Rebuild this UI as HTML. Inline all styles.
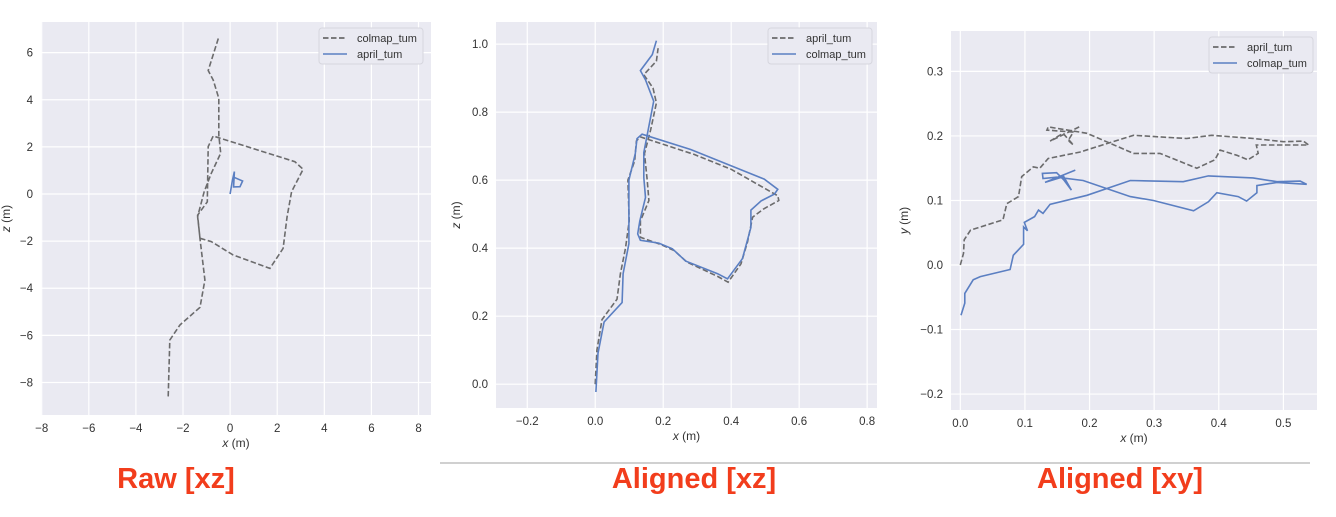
<!DOCTYPE html>
<html><head><meta charset="utf-8"><style>
body{margin:0;background:#fff;width:1336px;height:517px;overflow:hidden;font-family:"Liberation Sans",sans-serif}
svg{position:absolute;left:0;top:0}
.cap{position:absolute;color:#f23d1c;font-weight:bold;font-size:29px;transform:translateX(-50%);white-space:nowrap}
</style></head><body>
<svg id="chart" width="1336" height="517"></svg>
<div style="position:absolute;left:440px;top:462px;width:870px;height:2px;background:#d0d0d0"></div>
<div class="cap" style="left:176px;top:463px">Raw [xz]</div>
<div class="cap" style="left:694px;top:463px">Aligned [xz]</div>
<div class="cap" style="left:1120px;top:463px">Aligned [xy]</div>
<script>
// Panel 1: raw xz
const rawColmap=[[-0.5,6.6],[-0.93,5.24],[-0.72,4.84],[-0.48,4.06],[-0.48,2.5],[-0.4,1.73],[-0.8,0.88],[-1.1,0.1],[-1.38,-0.96],[-1.28,-1.88],[-0.8,-2.02],[0.13,-2.59],[1.69,-3.16],[2.25,-2.31],[2.42,-0.96],[2.61,0.1],[3.1,1.05],[2.75,1.37],[-0.72,2.46],[-0.93,2.01],[-0.97,-0.33],[-1.38,-0.9],[-1.28,-1.9],[-1.07,-3.65],[-1.28,-4.81],[-2.13,-5.56],[-2.56,-6.2],[-2.63,-8.6]];
const rawApril=[[0,0],[0.1,0.6],[0.18,0.95],[0.15,0.3],[0.42,0.31],[0.53,0.55],[0.12,0.73]];
// Panel 2: aligned xz
const xzApril=[[0,0],[0.005,0.1],[0.02,0.19],[0.064,0.25],[0.074,0.325],[0.089,0.4],[0.1,0.48],[0.096,0.6],[0.116,0.657],[0.121,0.715],[0.133,0.727],[0.29,0.676],[0.4,0.632],[0.537,0.554],[0.54,0.54],[0.495,0.515],[0.463,0.491],[0.448,0.418],[0.429,0.354],[0.391,0.3],[0.36,0.317],[0.27,0.359],[0.232,0.393],[0.192,0.411],[0.133,0.432],[0.133,0.48],[0.158,0.54],[0.153,0.6],[0.145,0.678],[0.163,0.747],[0.18,0.827],[0.17,0.871],[0.143,0.91],[0.18,0.95],[0.185,0.988]];
const xzColmap=[[0.002,-0.023],[0.008,0.091],[0.026,0.183],[0.079,0.24],[0.082,0.325],[0.099,0.413],[0.099,0.6],[0.118,0.678],[0.123,0.722],[0.138,0.735],[0.281,0.69],[0.497,0.603],[0.537,0.573],[0.527,0.559],[0.488,0.539],[0.458,0.512],[0.458,0.461],[0.433,0.369],[0.389,0.31],[0.36,0.325],[0.266,0.362],[0.227,0.398],[0.187,0.415],[0.133,0.423],[0.125,0.442],[0.131,0.48],[0.148,0.549],[0.143,0.608],[0.143,0.681],[0.172,0.832],[0.148,0.895],[0.133,0.922],[0.168,0.969],[0.18,1.01]];
// Panel 3: aligned xy
const xyApril=[[0,0],[0.005,0.018],[0.006,0.039],[0.016,0.054],[0.066,0.07],[0.072,0.095],[0.09,0.106],[0.095,0.137],[0.113,0.152],[0.123,0.15],[0.136,0.165],[0.185,0.175],[0.268,0.201],[0.35,0.196],[0.389,0.201],[0.454,0.196],[0.5,0.191],[0.531,0.192],[0.539,0.186],[0.458,0.186],[0.461,0.173],[0.445,0.163],[0.428,0.17],[0.402,0.178],[0.394,0.163],[0.366,0.15],[0.309,0.173],[0.268,0.173],[0.196,0.204],[0.154,0.211],[0.136,0.214],[0.134,0.209],[0.175,0.206],[0.167,0.193],[0.175,0.186],[0.159,0.204],[0.139,0.192],[0.184,0.214]];
const xyColmap=[[0.001,-0.078],[0.007,-0.059],[0.007,-0.044],[0.02,-0.023],[0.031,-0.018],[0.077,-0.007],[0.082,0.015],[0.098,0.032],[0.098,0.059],[0.104,0.053],[0.099,0.066],[0.115,0.075],[0.121,0.085],[0.128,0.08],[0.139,0.094],[0.196,0.108],[0.263,0.131],[0.345,0.129],[0.384,0.138],[0.453,0.135],[0.49,0.129],[0.526,0.13],[0.536,0.125],[0.49,0.128],[0.459,0.123],[0.459,0.112],[0.443,0.099],[0.43,0.106],[0.397,0.112],[0.384,0.098],[0.361,0.084],[0.299,0.1],[0.263,0.106],[0.19,0.131],[0.149,0.136],[0.128,0.134],[0.127,0.142],[0.149,0.143],[0.16,0.132],[0.172,0.116],[0.16,0.137],[0.131,0.128],[0.178,0.147]];
const xt1=[-8,-6,-4,-2,0,2,4,6,8], yt1=[-8,-6,-4,-2,0,2,4,6];
const xt2=[-0.2,0,0.2,0.4,0.6,0.8], yt2=[0,0.2,0.4,0.6,0.8,1.0];
const xt3=[0,0.1,0.2,0.3,0.4,0.5], yt3=[-0.2,-0.1,0,0.1,0.2,0.3];

const NS='http://www.w3.org/2000/svg', svg=document.getElementById('chart');
function mk(t,a,p){const e=document.createElementNS(NS,t);for(const k in a)e.setAttribute(k,a[k]);(p||svg).appendChild(e);return e;}
function fmt(v,d){const s=Math.abs(v).toFixed(d);return (v<0?'\u2212':'')+s;}
function panel(P){
  const g=mk('g',{});
  
  
  const sx=v=>P.x0+(v-P.xl[0])/(P.xl[1]-P.xl[0])*(P.x1-P.x0);
  const sy=v=>P.y1-(v-P.yl[0])/(P.yl[1]-P.yl[0])*(P.y1-P.y0);
  const bg=mk('rect',{x:P.x0,y:P.y0,width:P.x1-P.x0,height:P.y1-P.y0,fill:'#eaeaf2'},g);
  
  
  P.xt.forEach(v=>{const X=sx(v);
    mk('line',{x1:X,x2:X,y1:P.y0,y2:P.y1,stroke:'#fff','stroke-width':1.2},g);
    const t=mk('text',{x:X,y:P.y1+17,'text-anchor':'middle','font-size':11.5,fill:'#333'},g);t.textContent=fmt(v,P.d);
    
    });
  P.yt.forEach(v=>{const Y=sy(v);
    mk('line',{x1:P.x0,x2:P.x1,y1:Y,y2:Y,stroke:'#fff','stroke-width':1.2},g);
    const t=mk('text',{x:P.x0-8,y:Y+4,'text-anchor':'end','font-size':11.5,fill:'#333'},g);t.textContent=fmt(v,P.d);
    
    });
  const xl=mk('text',{x:(P.x0+P.x1)/2,y:P.y1+32,'text-anchor':'middle','font-size':12,fill:'#333'},g);
  xl.innerHTML='<tspan font-style="italic">x</tspan> (m)';
  
  
  const yc=(P.y0+P.y1)/2;
  const yl=mk('text',{x:P.ylx,y:yc,'text-anchor':'middle','font-size':12,fill:'#333',transform:`rotate(-90 ${P.ylx} ${yc})`},g);
  yl.innerHTML='<tspan font-style="italic">'+P.yv+'</tspan> (m)';
  
  
  const cp=mk('clipPath',{id:'c'+P.name},g);mk('rect',{x:P.x0,y:P.y0,width:P.x1-P.x0,height:P.y1-P.y0},cp);
  P.series.forEach(s=>{
    const l=mk('polyline',{points:s.d.map(p=>sx(p[0]).toFixed(1)+','+sy(p[1]).toFixed(1)).join(' '),fill:'none',stroke:s.dash?'#555':'#5b7fc2','stroke-opacity':s.dash?0.85:1,'stroke-width':1.6,'stroke-dasharray':s.dash?'5.5,2.5':'none','clip-path':`url(#c${P.name})`},g);
    
    
  });
  const L=P.leg;
  const lg=mk('g',{},g);
  
  
  mk('rect',{x:L[0],y:L[1],width:104,height:36,rx:3,fill:'#eaeaf2',stroke:'#d6d6de'},lg);
  P.series.forEach((s,i)=>{const Y=L[1]+10+i*16;
    mk('line',{x1:L[0]+4,x2:L[0]+28,y1:Y,y2:Y,stroke:s.dash?'#555':'#5b7fc2','stroke-width':1.6,'stroke-dasharray':s.dash?'5.5,2.5':'none'},lg);
    const t=mk('text',{x:L[0]+38,y:Y+4,'font-size':11,fill:'#333'},lg);t.textContent=s.n;
    
    });
}
panel({name:'raw-xz-panel',x0:41,x1:431,y0:22,y1:415,xl:[-8.03,8.53],yl:[-9.38,7.3],xt:xt1,yt:yt1,d:0,yv:'z',ylx:10,leg:[319,28],
  series:[{n:'colmap_tum',d:rawColmap,dash:1},{n:'april_tum',d:rawApril,dash:0}]});
panel({name:'aligned-xz-panel',x0:496,x1:877,y0:22,y1:408,xl:[-0.292,0.829],yl:[-0.07,1.065],xt:xt2,yt:yt2,d:1,yv:'z',ylx:460,leg:[768,28],
  series:[{n:'april_tum',d:xzApril,dash:1},{n:'colmap_tum',d:xzColmap,dash:0}]});
panel({name:'aligned-xy-panel',x0:951,x1:1317,y0:31,y1:410,xl:[-0.0144,0.552],yl:[-0.2247,0.3626],xt:xt3,yt:yt3,d:1,yv:'y',ylx:908,leg:[1209,37],
  series:[{n:'april_tum',d:xyApril,dash:1},{n:'colmap_tum',d:xyColmap,dash:0}]});
</script>
</body></html>
